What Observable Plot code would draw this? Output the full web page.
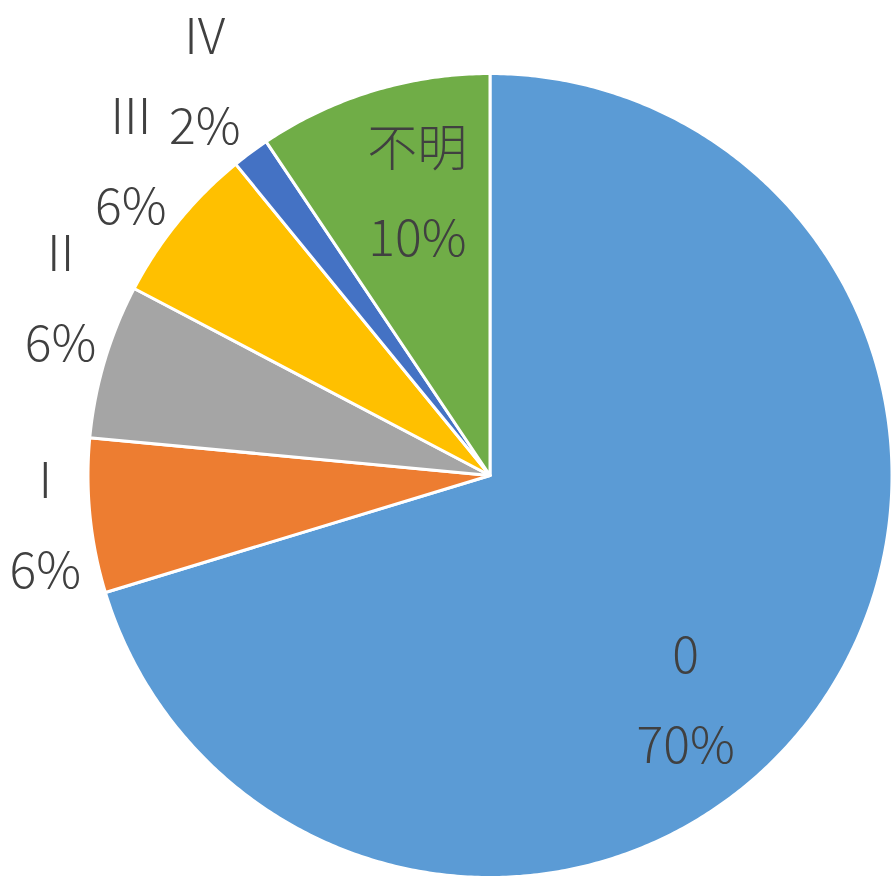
<!DOCTYPE html>
<html>
<head>
<meta charset="utf-8">
<script src="https://cdn.jsdelivr.net/npm/d3@7"></script>
<script src="https://cdn.jsdelivr.net/npm/@observablehq/plot@0.6"></script>
<style>
  html, body { margin: 0; padding: 0; background: #fff; }
  #chart { width: 894px; height: 878px; }
</style>
</head>
<body>
<div id="chart"></div>
<script>
// Data (clockwise from 12 o'clock)
const categories = ["0", "I", "II", "III", "IV", "不明"];
const shares = [70.3, 6.2, 6.2, 6.4, 1.5, 9.4];
const percentLabels = ["70%", "6%", "6%", "6%", "2%", "10%"];
const colors = ["#5B9BD5", "#ED7D31", "#A5A5A5", "#FFC000", "#4472C4", "#70AD47"];

// Layout: label anchors (polar, in radius units; angle in degrees clockwise from top)
const labelPolar = [
  {a: 138.9, r: 0.74},
  {a: 263.8, r: 1.113},
  {a: 292.5, r: 1.156},
  {a: 311.3, r: 1.189},
  {a: 324.2, r: 1.213},
  {a: 345.6, r: 0.727}
];

const pie = d3.pie().sort(null).value(d => d)(shares);

// polygon vertices for each slice (unit circle, y up)
const pts = [];
pie.forEach((arc, i) => {
  const cat = categories[i];
  pts.push({cat, x: 0, y: 0});
  const n = Math.max(4, Math.ceil((arc.endAngle - arc.startAngle) / (Math.PI / 360)));
  for (let k = 0; k <= n; k++) {
    const t = arc.startAngle + (arc.endAngle - arc.startAngle) * k / n;
    pts.push({cat, x: Math.sin(t), y: Math.cos(t)});
  }
});

const labels = categories.map((c, i) => {
  const t = labelPolar[i].a * Math.PI / 180;
  return {cat: c, text: c + "\n" + percentLabels[i], x: labelPolar[i].r * Math.sin(t), y: labelPolar[i].r * Math.cos(t)};
});

const W = 894, H = 878;
const R = 402, cx = 489.5, cy = 475;

const chart = Plot.plot({
  width: W,
  height: H,
  margin: 0,
  x: {domain: [-cx / R, (W - cx) / R], range: [0, W], axis: null},
  y: {domain: [-(H - cy) / R, cy / R], range: [H, 0], axis: null},
  color: {domain: categories, range: colors},
  style: {background: "#fff"},
  marks: [
    Plot.line(pts, {x: "x", y: "y", z: "cat", fill: "cat", stroke: "#fff", strokeWidth: 3, curve: "linear-closed", strokeLinejoin: "round"}),
    Plot.text(labels, {x: "x", y: "y", dy: -10, text: "text", fill: "#404040", fontSize: 50, fontWeight: 300, lineHeight: 1.8, fontFamily: "'Noto Sans CJK JP', 'Noto Sans', sans-serif"})
  ]
});
document.getElementById("chart").appendChild(chart);
</script>
</body>
</html>
